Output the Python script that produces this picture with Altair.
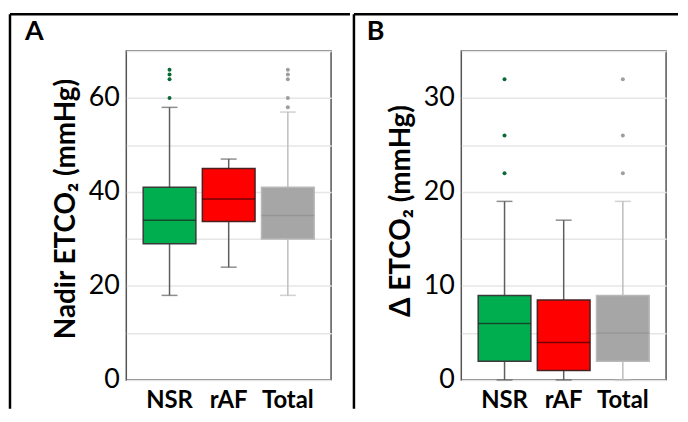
import altair as alt
import pandas as pd

groups = ["NSR", "rAF", "Total"]
fill_colors = ["#00AD4F", "#FF0000", "#A6A6A6"]
edge_colors = ["#3A3A3A", "#4A2020", "#B8B8B8"]
median_colors = ["#1E1E1E", "#3A0000", "#8E8E8E"]
whisker_colors = ["#5E5E5E", "#5E5E5E", "#BDBDBD"]
outlier_color_map = {"NSR": "#0A6A34", "Total": "#9E9E9E"}

# Panel A: Nadir ETCO2
a_low = [18, 24, 18]
a_q1 = [29, 33.7, 30]
a_med = [34, 38.5, 35]
a_q3 = [41, 45, 41]
a_high = [58, 47, 57]
a_out_groups = ["NSR", "NSR", "NSR", "NSR", "Total", "Total", "Total", "Total", "Total"]
a_out_values = [60, 64, 65, 66, 58, 60, 64, 65, 66]

# Panel B: Delta ETCO2
b_low = [0, 0, 0]
b_q1 = [2, 1, 2]
b_med = [6, 4, 5]
b_q3 = [9, 8.5, 9]
b_high = [19, 17, 19]
b_out_groups = ["NSR", "NSR", "NSR", "Total", "Total", "Total"]
b_out_values = [22, 26, 32, 22, 26, 32]

FONT = "Lato"
PW, PH = 206, 331


def panel(letter, ytitle, ymax, grid_step, label_every, low, q1, med, q3, high,
          out_groups, out_values, frame_x, frame_x2, letter_x, title_shift):
    df = pd.DataFrame({
        "group": groups, "low": low, "q1": q1, "med": med, "q3": q3, "high": high,
        "fill": fill_colors, "edge": edge_colors, "medc": median_colors, "whisk": whisker_colors,
    })
    odf = pd.DataFrame({"group": out_groups, "value": out_values,
                        "col": [outlier_color_map[g] for g in out_groups]})

    xenc = alt.X("group:N", sort=groups,
                 scale=alt.Scale(paddingInner=0, paddingOuter=0.231),
                 axis=alt.Axis(title=None, labelAngle=0, ticks=False, domain=False,
                               labelFontWeight="bold", labelFontSize=24, labelPadding=9,
                               labelColor="black", grid=False, labelFont=FONT))
    yscale = alt.Scale(domain=[0, ymax], nice=False, zero=True)
    yaxis = alt.Axis(values=list(range(0, ymax + 1, grid_step)),
                     labelExpr=f"datum.value % {label_every} == 0 ? datum.label : ''",
                     ticks=False, domain=False, grid=True, gridColor="#E6E6E6", gridWidth=1.5,
                     labelFontSize=27, labelPadding=7, labelColor="black", labelFont=FONT,
                     title=ytitle, titleFontSize=28, titleFontWeight="bold", titleFont=FONT,
                     titleColor="black", titlePadding=8, titleY=PH / 2 + title_shift)

    def Y(f):
        return alt.Y(f"{f}:Q", scale=yscale, axis=yaxis)

    base = alt.Chart(df)
    whisk = base.mark_rule(strokeWidth=1.5).encode(
        x=xenc, y=Y("low"), y2="high:Q", color=alt.Color("whisk:N", scale=None))
    cap_lo = base.mark_tick(size=16, thickness=1.5).encode(
        x=xenc, y=Y("low"), color=alt.Color("whisk:N", scale=None))
    cap_hi = base.mark_tick(size=16, thickness=1.5).encode(
        x=xenc, y=Y("high"), color=alt.Color("whisk:N", scale=None))
    box = base.mark_bar(size=53, strokeWidth=1.5).encode(
        x=xenc, y=Y("q1"), y2="q3:Q",
        fill=alt.Fill("fill:N", scale=None), stroke=alt.Stroke("edge:N", scale=None))
    median = base.mark_tick(size=53, thickness=1.5).encode(
        x=xenc, y=Y("med"), color=alt.Color("medc:N", scale=None))
    outl = alt.Chart(odf).mark_circle(size=16, opacity=1).encode(
        x=xenc, y=Y("value"), color=alt.Color("col:N", scale=None))

    one = alt.Chart(pd.DataFrame({"k": [0]}))
    vline = one.mark_rule(color="black", strokeWidth=2.5).encode(
        x=alt.value(frame_x), y=alt.value(-37), y2=alt.value(360))
    hline = one.mark_rule(color="black", strokeWidth=2.5).encode(
        x=alt.value(frame_x), x2=alt.value(frame_x2), y=alt.value(-37))
    lab = one.mark_text(align="left", baseline="middle", fontSize=27, fontWeight="bold",
                        font=FONT, color="black").encode(
        x=alt.value(letter_x), y=alt.value(-19), text=alt.value(letter))

    return alt.layer(whisk, cap_lo, cap_hi, box, median, outl, vline, hline, lab).properties(
        width=PW, height=PH)


pa = panel("A", "Nadir ETCO₂ (mmHg)", 70, 10, 20, a_low, a_q1, a_med, a_q3, a_high,
           a_out_groups, a_out_values, -117, 225, -102, -7)
pb = panel("B", "Δ ETCO₂ (mmHg)", 35, 5, 10, b_low, b_q1, b_med, b_q3, b_high,
           b_out_groups, b_out_values, -108, 218, -95, -5)

chart = alt.hconcat(pa, pb, spacing=0).properties(
    padding={"top": 3, "left": 0, "right": 0, "bottom": 0}).configure_view(
    stroke="#555555", strokeWidth=1.5)

chart.save("out.html", embed_options={"renderer": "svg", "actions": False})
